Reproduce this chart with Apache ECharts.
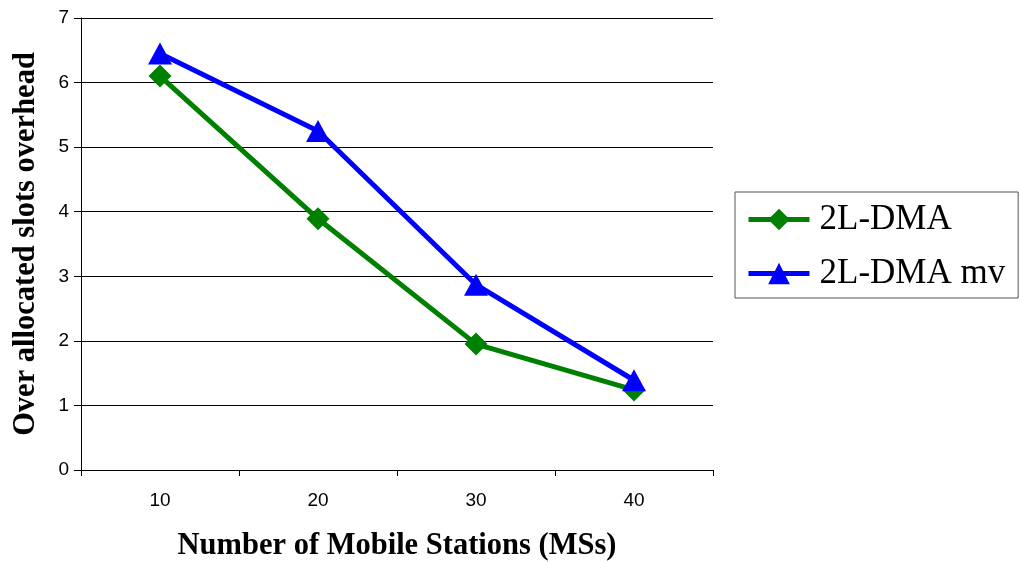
<!DOCTYPE html>
<html><head><meta charset="utf-8">
<script src="https://cdn.jsdelivr.net/npm/echarts@6/dist/echarts.min.js"></script>
<style>html,body{margin:0;padding:0;background:#fff}#c{width:1020px;height:563px}</style>
</head><body><div id="c"></div>
<script>
const categories = ['10', '20', '30', '40'];
const dma = [6.10, 3.89, 1.95, 1.24];
const dmaMv = [6.45, 5.25, 2.87, 1.39];
const yTicks = [0, 1, 2, 3, 4, 5, 6, 7];

const chart = echarts.init(document.getElementById('c'));
chart.setOption({
  animation: false,
  backgroundColor: '#fff',
  grid: { left: 81, right: 307, top: 18, bottom: 93, containLabel: false, outerBoundsMode: 'none' },
  xAxis: {
    type: 'category',
    data: categories,
    boundaryGap: true,
    name: 'Number of Mobile Stations (MSs)',
    nameLocation: 'middle',
    nameGap: 61,
    nameTextStyle: { fontFamily: 'Liberation Serif', fontWeight: 'bold', fontSize: 30.5, color: '#000' },
    axisLine: { lineStyle: { color: '#000', width: 1 } },
    axisTick: { show: true, alignWithLabel: false, interval: 0, length: 6, inside: false, lineStyle: { color: '#000' } },
    axisLabel: { fontFamily: 'Liberation Sans', fontSize: 19, color: '#000', margin: 21 }
  },
  yAxis: {
    type: 'value',
    min: yTicks[0],
    max: yTicks[yTicks.length - 1],
    interval: 1,
    name: 'Over allocated slots overhead',
    nameLocation: 'middle',
    nameGap: 39,
    nameTextStyle: { fontFamily: 'Liberation Serif', fontWeight: 'bold', fontSize: 30.5, color: '#000' },
    axisLine: { show: true, lineStyle: { color: '#000', width: 1 } },
    axisTick: { show: true, length: 7, lineStyle: { color: '#000' } },
    axisLabel: { fontFamily: 'Liberation Sans', fontSize: 19, color: '#000', margin: 12 },
    splitLine: { show: true, lineStyle: { color: '#000', width: 1 } }
  },
  legend: {
    orient: 'vertical',
    left: 735,
    top: 192,
    padding: [10, 13, 7, 11],
    borderColor: '#555',
    borderWidth: 1,
    itemWidth: 61,
    itemHeight: 27,
    itemGap: 19,
    lineStyle: { width: 5 },
    textStyle: { fontFamily: 'Liberation Serif', fontSize: 35, color: '#000', padding: [0, 0, 0, 5] },
    data: ['2L-DMA', '2L-DMA mv']
  },
  series: [
    {
      name: '2L-DMA',
      type: 'line',
      data: dma,
      symbol: 'diamond',
      symbolSize: 23,
      color: '#008000',
      lineStyle: { width: 5, color: '#008000' },
      itemStyle: { color: '#008000' },
      z: 2
    },
    {
      name: '2L-DMA mv',
      type: 'line',
      data: dmaMv,
      symbol: 'triangle',
      symbolSize: [24, 22],
      color: '#0000ff',
      lineStyle: { width: 5, color: '#0000ff' },
      itemStyle: { color: '#0000ff' },
      z: 3
    }
  ]
});
</script></body></html>
